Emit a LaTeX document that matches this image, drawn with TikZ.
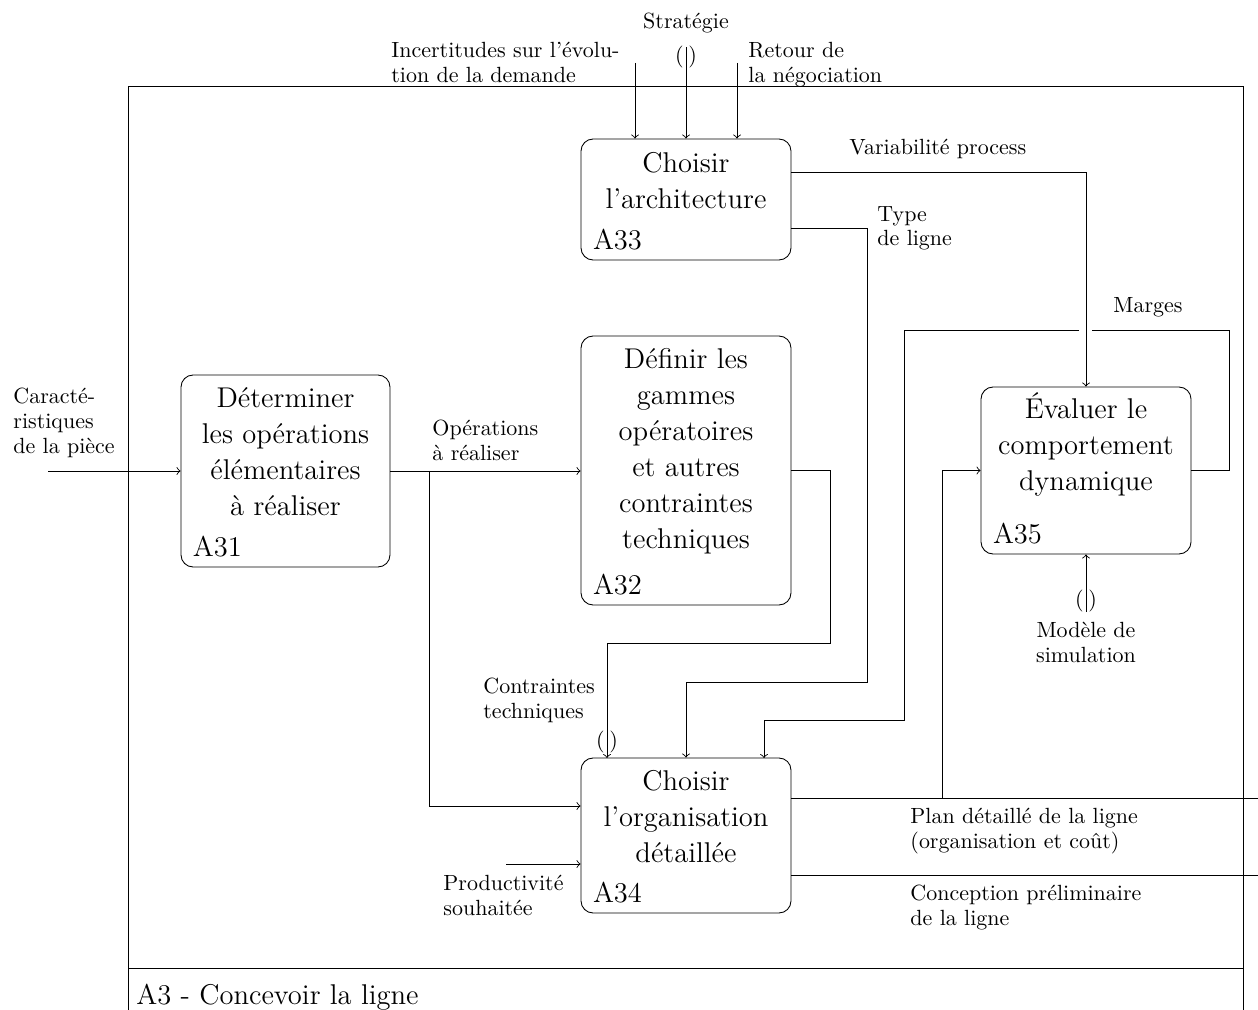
\documentclass[tikz,border=0pt]{standalone}
\usetikzlibrary{calc}
\newcommand{\boxfont}{\fontsize{13}{16.4}\selectfont}
\newcommand{\lblfont}{\fontsize{10}{11.2}\selectfont}
\begin{document}
\begin{tikzpicture}[x=0.455pt,y=-0.455pt,
  pbox/.style={draw, rounded corners=5.5pt, inner sep=0pt, minimum width=95.55pt},
  btext/.style={font=\boxfont, align=center, anchor=north, inner sep=0pt},
  bnum/.style={font=\boxfont, anchor=base west, inner sep=0pt},
  lbl/.style={font=\lblfont, align=left, anchor=north west, inner sep=0pt},
  tun/.style={font=\lblfont, inner sep=0pt},
  conn/.style={->}]
\useasboundingbox (0,0) rectangle (1258,1010);

% frame
\draw (128,1010) -- (128,86) -- (1243,86) -- (1243,1010);
\draw (128,968) -- (1243,968);
\node[bnum] (title) at (136,1004) {A3 - Concevoir la ligne};

% boxes
\node[pbox, minimum height=55.06pt] (A33) at (686,199.5) {};
\node[pbox, minimum height=122.4pt] (A32) at (686,470.5) {};
\node[pbox, minimum width=95.1pt, minimum height=87.36pt] (A31) at (285.5,471) {};
\node[pbox, minimum height=70.53pt] (A34) at (686,835.5) {};
\node[pbox, minimum height=75.99pt] (A35) at (1086,470.5) {};

\node[btext] (A33t) at ($(A33.north)+(0,13)$) {Choisir\\l’architecture};
\node[btext] (A32t) at ($(A32.north)+(0,12.5)$) {Définir les\\gammes\\opératoires\\et autres\\contraintes\\techniques};
\node[btext] (A31t) at ($(A31.north)+(0,12.5)$) {Déterminer\\les opérations\\élémentaires\\à réaliser};
\node[btext] (A34t) at ($(A34.north)+(0,12.5)$) {Choisir\\l’organisation\\détaillée};
\node[btext] (A35t) at ($(A35.north)+(0,6)$) {Évaluer le\\comportement\\dynamique};

\node[bnum] (A33n) at ($(A33.south west)+(12,-11)$) {A33};
\node[bnum] (A32n) at ($(A32.south west)+(12,-11)$) {A32};
\node[bnum] (A31n) at ($(A31.south west)+(12,-11)$) {A31};
\node[bnum] (A34n) at ($(A34.south west)+(12,-11)$) {A34};
\node[bnum] (A35n) at ($(A35.south west)+(12,-11)$) {A35};

% coordinates
\coordinate (cin) at (48,471);
\coordinate (br) at (429,471);
\coordinate (k1) at (830,643);
\coordinate (k2) at (607,758);
\coordinate (t1) at (867,682);
\coordinate (m1) at (1229,330);
\coordinate (gapR) at (1092,330);
\coordinate (gapL) at (1079,330);
\coordinate (m2) at (904,720);
\coordinate (m3) at (764,758);
\coordinate (f1) at (942,470.5);
\coordinate (o1) at (1258,798);
\coordinate (o2) at (1258,875);
\coordinate (p0) at (506,864);
\coordinate (i0) at (635,63);
\coordinate (s0) at (686,47);
\coordinate (r0) at (737,63);
\coordinate (ms) at (1086,612);

% connectors
\draw[conn] (cin) -- (cin -| A31.west);
\draw[conn] (A31.east) -- (A31.east -| A32.west);
\draw[conn] (br) |- (A34.west |- 0,806);
\draw[conn] (A32.east) -| (k1) -| (k2);
\draw[conn] (A33.east |- 0,228) -| (t1) -| (A34.north);
\draw[conn] (A33.east |- 0,172) -| (A35.north);
\draw (A35.east) -| (m1) -- (gapR);
\draw[conn] (gapL) -| (m2) -| (m3);
\draw[conn] (A34.east |- 0,798) -| (f1) -- (A35.west);
\draw (A34.east |- o1) -- (o1);
\draw (A34.east |- o2) -- (o2);
\draw[conn] (p0) -- (p0 -| A34.west);
\draw[conn] (i0) -- (i0 |- A33.north);
\draw[conn] (s0) -- (A33.north);
\draw[conn] (r0) -- (r0 |- A33.north);
\draw[conn] (ms) -- (A35.south);

% tunnels
\node[tun] (tS) at (686,57) {(\kern2.2pt)};
\node[tun] (tC) at (607,742) {(\kern2.2pt)};
\node[tun] (tM) at (1086,601) {(\kern2.2pt)};

% labels
\node[lbl] (lCar) at (13,388) {Caracté-\\ristiques\\de la pièce};
\node[lbl] (lOp) at (432,420) {Opérations\\à réaliser};
\node[lbl] (lInc) at (391,42) {Incertitudes sur l’évolu-\\tion de la demande};
\node[font=\lblfont, anchor=base, inner sep=0pt] (lStr) at (686,29) {Stratégie};
\node[lbl] (lRet) at (748,42) {Retour de\\la négociation};
\node[font=\lblfont, anchor=base west, inner sep=0pt] (lVar) at (849,155) {Variabilité process};
\node[lbl] (lType) at (877,206) {Type\\de ligne};
\node[font=\lblfont, anchor=base west, inner sep=0pt] (lMar) at (1113,313) {Marges};
\node[font=\lblfont, align=center, anchor=north, inner sep=0pt] (lMod) at (1086,622) {Modèle de\\simulation};
\node[lbl] (lCon) at (483,678) {Contraintes\\techniques};
\node[lbl] (lPro) at (443,875) {Productivité\\souhaitée};
\node[lbl] (lPlan) at (910,808) {Plan détaillé de la ligne\\(organisation et coût)};
\node[lbl] (lConc) at (910,885) {Conception préliminaire\\de la ligne};
\end{tikzpicture}
\end{document}
